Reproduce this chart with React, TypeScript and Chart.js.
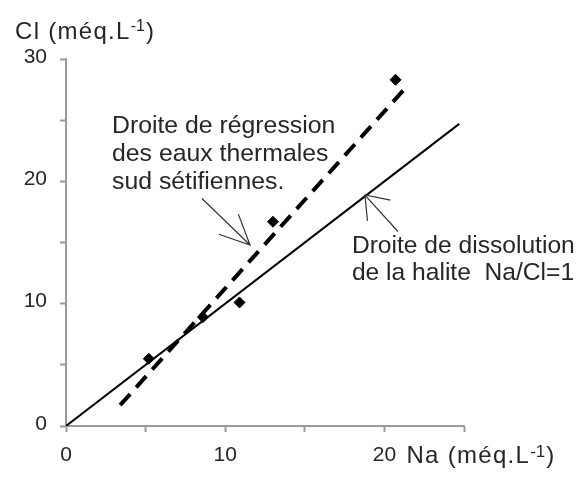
import React, { useEffect, useRef } from "react";
import { Chart, registerables } from "chart.js";

Chart.register(...registerables);

// Data (méq/L)
const naSamples = [5.2, 8.6, 10.9, 13.0, 20.7];
const clSamples = [5.5, 8.9, 10.1, 16.7, 28.3];

// Halite dissolution line Na/Cl = 1
const haliteNa = [0, 24.7];
const haliteCl = [0, 24.7];

// Regression line of the south-Sétif thermal waters
const regressionNa = [3.4, 21.3];
const regressionCl = [1.7, 27.6];

// Axis ranges / ticks
const xMin = 0, xMax = 25, xStep = 5;
const yMin = 0, yMax = 30, yStep = 5;
const labelEvery = 10;

// Annotation texts
const regressionText = ["Droite de régression", "des eaux thermales", "sud sétifiennes."];
const haliteText = ["Droite de dissolution", "de la halite  Na/Cl=1"];
const yTitle = "Cl (méq.L";
const xTitle = "Na (méq.L";
const unitSup = "-1";

// Annotation anchors in data units
const regressionTextAt = { x: 2.89, y: 23.95 };
const haliteTextAt = { x: 17.96, y: 14.14 };
const regressionArrow = { from: { x: 8.54, y: 18.6 }, to: { x: 11.56, y: 14.8 } };
const haliteArrow = { from: { x: 20.85, y: 15.9 }, to: { x: 18.78, y: 18.88 } };

const FONT = "'Liberation Sans', Arial, sans-serif";
const TEXT = "#262626";
const AXIS = "#9a9a9a";

function drawArrow(ctx: CanvasRenderingContext2D, x1: number, y1: number, x2: number, y2: number, len: number, half: number) {
  ctx.beginPath();
  ctx.moveTo(x1, y1);
  ctx.lineTo(x2, y2);
  const ang = Math.atan2(y1 - y2, x1 - x2);
  ctx.moveTo(x2 + len * Math.cos(ang - half), y2 + len * Math.sin(ang - half));
  ctx.lineTo(x2, y2);
  ctx.lineTo(x2 + len * Math.cos(ang + half), y2 + len * Math.sin(ang + half));
  ctx.stroke();
}

function drawUnitTitle(
  ctx: CanvasRenderingContext2D,
  text: string,
  x: number,
  y: number,
  size: number,
  supSize: number,
  supRaise: number
) {
  const c = ctx as any;
  c.letterSpacing = "1.3px";
  ctx.font = `${size}px ${FONT}`;
  ctx.fillText(text, x, y);
  let w = ctx.measureText(text).width;
  c.letterSpacing = "0px";
  ctx.font = `${supSize}px ${FONT}`;
  ctx.fillText(unitSup, x + w, y - supRaise);
  w += ctx.measureText(unitSup).width;
  ctx.font = `${size}px ${FONT}`;
  ctx.fillText(")", x + w + 1, y);
}

const annotations = {
  id: "annotations",
  afterDraw(chart: any) {
    const { ctx, scales } = chart;
    const sx = (v: number) => scales.x.getPixelForValue(v);
    const sy = (v: number) => scales.y.getPixelForValue(v);
    ctx.save();
    ctx.fillStyle = TEXT;
    ctx.textAlign = "left";
    ctx.textBaseline = "alphabetic";
    ctx.font = `24.8px ${FONT}`;
    regressionText.forEach((t, i) => ctx.fillText(t, sx(regressionTextAt.x), sy(regressionTextAt.y) + i * 28));
    ctx.font = `24.6px ${FONT}`;
    haliteText.forEach((t, i) => ctx.fillText(t, sx(haliteTextAt.x), sy(haliteTextAt.y) + i * 27));

    ctx.strokeStyle = "#333";
    ctx.lineWidth = 1.2;
    drawArrow(ctx, sx(regressionArrow.from.x), sy(regressionArrow.from.y), sx(regressionArrow.to.x), sy(regressionArrow.to.y), 33, 0.44);
    drawArrow(ctx, sx(haliteArrow.from.x), sy(haliteArrow.from.y), sx(haliteArrow.to.x), sy(haliteArrow.to.y), 26, 0.64);

    // Axis titles
    drawUnitTitle(ctx, yTitle, 15, 39, 24, 16, 8);
    drawUnitTitle(ctx, xTitle, sx(20) + 22, 463, 24, 17, 6);
    ctx.restore();
  },
};

export default function App() {
  const ref = useRef<HTMLCanvasElement | null>(null);
  useEffect(() => {
    document.body.style.margin = "0";
    const canvas = ref.current!;
    const axisCommon = (min: number, max: number, step: number, padding: number, labelOffset: number) => ({
      type: "linear" as const,
      min,
      max,
      ticks: {
        stepSize: step,
        autoSkip: false,
        maxRotation: 0,
        padding,
        labelOffset,
        color: TEXT,
        font: { family: FONT, size: 21 },
        callback: (v: any) => (Number(v) % labelEvery === 0 ? String(v) : ""),
      },
      grid: {
        display: true,
        drawOnChartArea: false,
        drawTicks: true,
        tickLength: 6,
        tickColor: AXIS,
        tickWidth: 2,
      },
      border: { display: true, color: AXIS, width: 2 },
    });
    const chart = new Chart(canvas, {
      type: "scatter",
      data: {
        datasets: [
          {
            data: haliteNa.map((x, i) => ({ x, y: haliteCl[i] })),
            showLine: true,
            borderColor: "#000",
            borderWidth: 2,
            pointRadius: 0,
          },
          {
            data: regressionNa.map((x, i) => ({ x, y: regressionCl[i] })),
            showLine: true,
            borderColor: "#000",
            borderWidth: 4,
            borderDash: [15, 9],
            pointRadius: 0,
          },
          {
            data: naSamples.map((x, i) => ({ x, y: clSamples[i] })),
            pointStyle: "rectRot",
            pointRadius: 5.5,
            backgroundColor: "#000",
            borderColor: "#000",
            borderWidth: 1,
          },
        ],
      },
      options: {
        responsive: false,
        animation: false,
        events: [],
        layout: { padding: { top: 59, right: 118, left: 0, bottom: 0 } },
        plugins: { legend: { display: false }, tooltip: { enabled: false } },
        scales: {
          x: { ...axisCommon(xMin, xMax, xStep, 11, 0), afterFit: (s: any) => { s.height = 53; } },
          y: { ...axisCommon(yMin, yMax, yStep, 13, -2), afterFit: (s: any) => { s.width = 66; } },
        },
      } as any,
      plugins: [annotations],
    });
    return () => chart.destroy();
  }, []);
  return <canvas ref={ref} width={582} height={479} style={{ display: "block" }} />;
}
